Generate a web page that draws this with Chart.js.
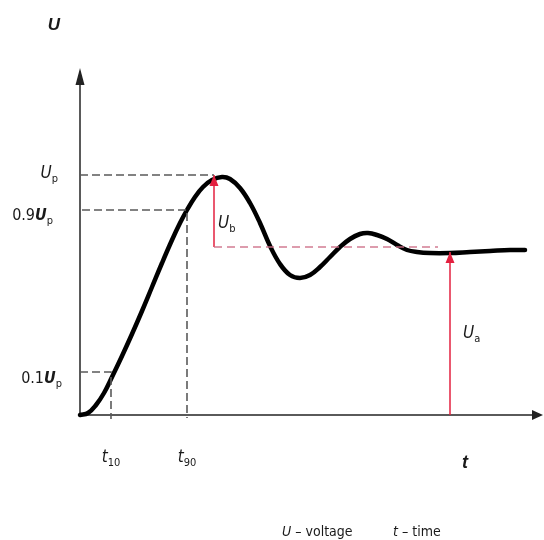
<!DOCTYPE html>
<html>
<head>
<meta charset="utf-8">
<script src="https://cdn.jsdelivr.net/npm/chart.js@4"></script>
<style>
  body { margin: 0; background: #fff; }
  canvas { display: block; }
</style>
</head>
<body>
<canvas id="pulse" width="544" height="540"></canvas>
<script>
// step response of the voltage, sampled along the time axis
var time = [0, 8, 16, 24, 32, 42, 52, 62, 72, 82, 92, 100, 107, 115, 123, 132, 142, 150, 160, 170, 180,
  190, 200, 210, 220, 230, 240, 250, 260, 270, 280, 288, 297, 307, 317, 327, 337, 350, 370, 390, 410, 430, 445];
var voltage = [0, 2, 10, 22, 38, 59, 81, 104, 128, 152, 175, 192, 205, 218, 228, 235, 238, 236, 227, 212, 192,
  169, 151, 140, 137, 140, 148, 158, 168, 176, 181, 182, 180, 176, 170, 165, 163, 162, 162, 163, 164, 165, 165];

// marked levels and instants
var levelUp = 240;
var level90 = 205;
var level10 = 43;
var levelRef = 168;
var levelSettle = 163;
var t10 = 31;
var t90 = 107;
var tPeak = 134;
var tRefEnd = 358;
var tA = 370;

var NARROW = "'Liberation Sans Narrow', 'DejaVu Sans Condensed', sans-serif";
var SANS = "'Liberation Sans', Arial, sans-serif";
var GREY = "#5a5a5a";
var RED = "#e3203f";

function pts(xs, ys) {
  return xs.map(function (x, i) { return { x: x, y: ys[i] }; });
}

// text made of pieces with their own font and vertical shift (subscripts)
function rich(ctx, x, y, parts, align) {
  var w = 0;
  parts.forEach(function (p) { ctx.font = p.font; p.w = ctx.measureText(p.text).width; w += p.w; });
  var cx = align === "right" ? x - w : align === "center" ? x - w / 2 : x;
  parts.forEach(function (p) {
    ctx.font = p.font;
    ctx.fillText(p.text, cx, y + (p.dy || 0));
    cx += p.w;
  });
}

function head(ctx, tipX, tipY, dx, dy, len, half) {
  var n = Math.sqrt(dx * dx + dy * dy);
  var ux = dx / n, uy = dy / n;
  var bx = tipX - ux * len, by = tipY - uy * len;
  ctx.beginPath();
  ctx.moveTo(tipX, tipY);
  ctx.lineTo(bx - uy * half, by + ux * half);
  ctx.lineTo(bx + uy * half, by - ux * half);
  ctx.closePath();
  ctx.fill();
}

var axesPlugin = {
  id: "axesArrows",
  beforeDatasetsDraw: function (chart) {
    var ctx = chart.ctx, xs = chart.scales.x, ys = chart.scales.y;
    var x0 = xs.getPixelForValue(0), y0 = ys.getPixelForValue(0);
    ctx.save();
    ctx.strokeStyle = GREY;
    ctx.fillStyle = "#222";
    ctx.lineWidth = 2;
    ctx.beginPath();
    ctx.moveTo(x0, y0 + 1);
    ctx.lineTo(x0, 80);
    ctx.moveTo(x0 - 1, y0);
    ctx.lineTo(534, y0);
    ctx.stroke();
    head(ctx, x0, 68, 0, -1, 17, 4.5);
    head(ctx, 543, y0, 1, 0, 11, 5);
    ctx.restore();
  },
  afterDatasetsDraw: function (chart) {
    var ctx = chart.ctx, xs = chart.scales.x, ys = chart.scales.y;
    ctx.save();
    // arrow heads on the red measurement lines
    chart.data.datasets.forEach(function (ds) {
      if (!ds.arrowHead) return;
      var d = ds.data, a = d[d.length - 2], b = d[d.length - 1];
      var bx = xs.getPixelForValue(b.x), by = ys.getPixelForValue(b.y);
      var ax = xs.getPixelForValue(a.x), ay = ys.getPixelForValue(a.y);
      ctx.fillStyle = ds.borderColor;
      head(ctx, bx, by, bx - ax, by - ay, 11, 4.5);
    });

    ctx.fillStyle = "#1a1a1a";
    ctx.textBaseline = "alphabetic";
    var base = ys.getPixelForValue(0);

    rich(ctx, 54, 30, [{ text: "U", font: "italic bold 17px " + SANS }], "center");
    rich(ctx, 58, ys.getPixelForValue(levelUp) + 3, [
      { text: "U", font: "italic 17px " + NARROW },
      { text: "p", font: "11px " + NARROW, dy: 4 }
    ], "right");
    rich(ctx, 53, ys.getPixelForValue(level90) + 10, [
      { text: "0.9", font: "16px " + NARROW },
      { text: "U", font: "italic bold 16px " + NARROW },
      { text: "p", font: "11px " + NARROW, dy: 4 }
    ], "right");
    rich(ctx, 62, ys.getPixelForValue(level10) + 11, [
      { text: "0.1", font: "16px " + NARROW },
      { text: "U", font: "italic bold 16px " + NARROW },
      { text: "p", font: "11px " + NARROW, dy: 4 }
    ], "right");

    rich(ctx, xs.getPixelForValue(t10), base + 47, [
      { text: "t", font: "italic 17px " + NARROW },
      { text: "10", font: "11px " + NARROW, dy: 4 }
    ], "center");
    rich(ctx, xs.getPixelForValue(t90), base + 47, [
      { text: "t", font: "italic 17px " + NARROW },
      { text: "90", font: "11px " + NARROW, dy: 4 }
    ], "center");
    rich(ctx, 465, base + 53, [{ text: "t", font: "italic bold 18px " + SANS }], "center");

    rich(ctx, xs.getPixelForValue(tPeak) + 4, ys.getPixelForValue(levelRef) - 19, [
      { text: "U", font: "italic 17px " + NARROW },
      { text: "b", font: "11px " + NARROW, dy: 4 }
    ], "left");
    rich(ctx, xs.getPixelForValue(tA) + 13, ys.getPixelForValue(levelSettle) + 86, [
      { text: "U", font: "italic 17px " + NARROW },
      { text: "a", font: "11px " + NARROW, dy: 4 }
    ], "left");

    rich(ctx, 282, 536, [
      { text: "U", font: "italic 14px " + NARROW },
      { text: " \u2013 voltage", font: "14px " + NARROW }
    ], "left");
    rich(ctx, 393, 536, [
      { text: "t", font: "italic 14px " + NARROW },
      { text: " \u2013 time", font: "14px " + NARROW }
    ], "left");
    ctx.restore();
  }
};

var dashGrey = { borderColor: GREY, borderWidth: 1.6, borderDash: [8, 4], pointRadius: 0, clip: false, tension: 0 };

new Chart(document.getElementById("pulse").getContext("2d"), {
  type: "line",
  data: {
    datasets: [
      Object.assign({ data: pts([0, tPeak], [levelUp, levelUp]) }, dashGrey),
      Object.assign({ data: pts([2, t90, t90], [level90, level90, -3]) }, dashGrey),
      Object.assign({ data: pts([0, t10, t10], [level10, level10, -4]) }, dashGrey),
      {
        data: pts([tPeak, tRefEnd], [levelRef, levelRef]),
        borderColor: "rgba(205, 110, 135, 0.9)", borderWidth: 1.6, borderDash: [8, 5],
        pointRadius: 0, clip: false, tension: 0
      },
      {
        data: pts([tPeak, tPeak], [levelRef, levelUp]),
        borderColor: RED, borderWidth: 1.5, pointRadius: 0, clip: false, arrowHead: true
      },
      {
        data: pts([tA, tA], [0, levelSettle]),
        borderColor: RED, borderWidth: 1.5, pointRadius: 0, clip: false, arrowHead: true
      },
      {
        data: pts(time, voltage),
        borderColor: "#000", borderWidth: 4.5, pointRadius: 0,
        tension: 0.4, borderCapStyle: "round", borderJoinStyle: "round", clip: false
      }
    ]
  },
  options: {
    responsive: false,
    animation: false,
    layout: { padding: { left: 80, right: 4, top: 68, bottom: 125 } },
    scales: {
      x: { type: "linear", min: 0, max: 460, display: false },
      y: { type: "linear", min: 0, max: 347, display: false }
    },
    plugins: { legend: { display: false }, tooltip: { enabled: false } }
  },
  plugins: [axesPlugin]
});
</script>
</body>
</html>
